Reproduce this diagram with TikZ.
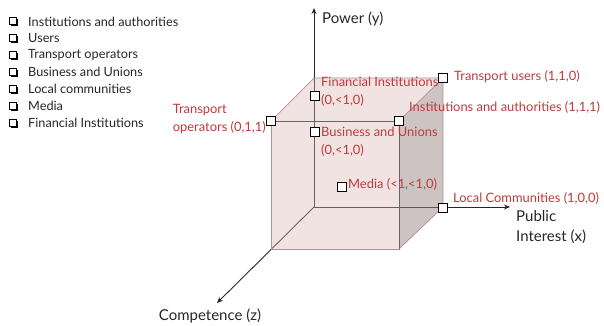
\documentclass[tikz,border=0pt]{standalone}
\usepackage{fontspec}
\setmainfont{Lato}
\usetikzlibrary{arrows.meta,shadows}
\definecolor{lblred}{HTML}{C0393B}
\definecolor{edgec}{HTML}{B09090}
\definecolor{facepink}{HTML}{E8CFCF}
\definecolor{facegray}{HTML}{9A9090}
\begin{document}
\begin{tikzpicture}[x=1pt,y=-1pt,
  marker/.style={draw=black,fill=white,line width=1.6pt,minimum size=9pt,inner sep=0pt},
  lbl/.style={text=lblred,font=\fontsize{12.9}{18}\selectfont,inner sep=0pt,align=left},
  axlbl/.style={text=black!85,font=\fontsize{15}{20}\selectfont,inner sep=0pt,align=left},
  leg/.style={font=\fontsize{12.7}{14}\selectfont,inner sep=0pt,anchor=west,text=black!85},
  legbox/.style={draw=black,fill=white,line width=1.1pt,minimum size=7pt,inner sep=0pt,
    drop shadow={shadow xshift=1.3pt,shadow yshift=-1.3pt,opacity=1,fill=black}},
  cubeedge/.style={draw=edgec,line width=0.7pt},
  axis/.style={draw=black!85,line width=0.9pt,-{Stealth[length=6pt,width=5pt]}}
]
\useasboundingbox (0,0) rectangle (604,326);
% cube corners
\coordinate (O) at (314,207);
\coordinate (B1) at (443,207);
\coordinate (B2) at (443,78);
\coordinate (B3) at (314,78);
\coordinate (F0) at (271,249);
\coordinate (F1) at (399,249);
\coordinate (F2) at (399,121);
\coordinate (F3) at (271,121);
% back faces
\fill[facepink,opacity=0.35] (O) -- (B1) -- (B2) -- (B3) -- cycle;
\fill[facepink,opacity=0.35] (O) -- (B3) -- (F3) -- (F0) -- cycle;
\fill[facepink,opacity=0.35] (O) -- (B1) -- (F1) -- (F0) -- cycle;
% axes
\coordinate (ytip) at (314,8);
\coordinate (xtip) at (510,207);
\coordinate (ztip) at (217,303);
\draw[axis] (O) -- (ytip);
\draw[axis] (O) -- (xtip);
\draw[axis] (O) -- (ztip);
% front faces
\fill[facepink,opacity=0.35] (F0) -- (F1) -- (F2) -- (F3) -- cycle;
\fill[facepink,opacity=0.35] (F3) -- (F2) -- (B2) -- (B3) -- cycle;
\fill[facegray,opacity=0.45] (F1) -- (B1) -- (B2) -- (F2) -- cycle;
% edges
\draw[cubeedge] (F0) -- (F1) -- (F2) -- (F3) -- cycle;
\draw[cubeedge] (F3) -- (B3) -- (B2) -- (F2);
\draw[cubeedge] (B2) -- (B1) -- (F1);
\draw[black!60,line width=0.8pt] (F2) -- (F3);
\draw[black!60,line width=0.8pt] (F2) -- (F1);
% axis labels
\node[axlbl,anchor=west] (ylab) at (322,19) {Power (y)};
\node[axlbl,anchor=north west] (xlab) at (516,210) {Public\\Interest (x)};
\node[axlbl,anchor=north] (zlab) at (210,309) {Competence (z)};
% markers
\node[marker] (m1) at (443,78) {};
\node[marker] (m2) at (315,96) {};
\node[marker] (m3) at (271,121) {};
\node[marker] (m4) at (399,121) {};
\node[marker] (m5) at (315,132) {};
\node[marker] (m6) at (342,187) {};
\node[marker] (m7) at (443,208) {};
% labels
\node[lbl,anchor=west] (l1) at (454,77) {Transport users (1,1,0)};
\node[lbl,anchor=north west] (l2) at (321,77) {Financial Institutions\\(0,<1,0)};
\node[lbl,anchor=north east] (l3) at (266,104) {Transport\\operators (0,1,1)};
\node[lbl,anchor=west] (l4) at (409,107) {Institutions and authorities (1,1,1)};
\node[lbl,anchor=north west] (l5) at (321,127) {Business and Unions\\(0,<1,0)};
\node[lbl,anchor=west] (l6) at (348,184) {Media (<1,<1,0)};
\node[lbl,anchor=west] (l7) at (453,198) {Local Communities (1,0,0)};
% legend
\foreach \t [count=\i] in {Institutions and authorities,Users,Transport operators,Business and Unions,Local communities,Media,Financial Institutions}{
  \node[legbox] (b\i) at (13,{4.5+16.9*\i}) {};
  \node[leg] (t\i) at (28,{4.5+16.9*\i}) {\t};
}
\end{tikzpicture}
\end{document}
